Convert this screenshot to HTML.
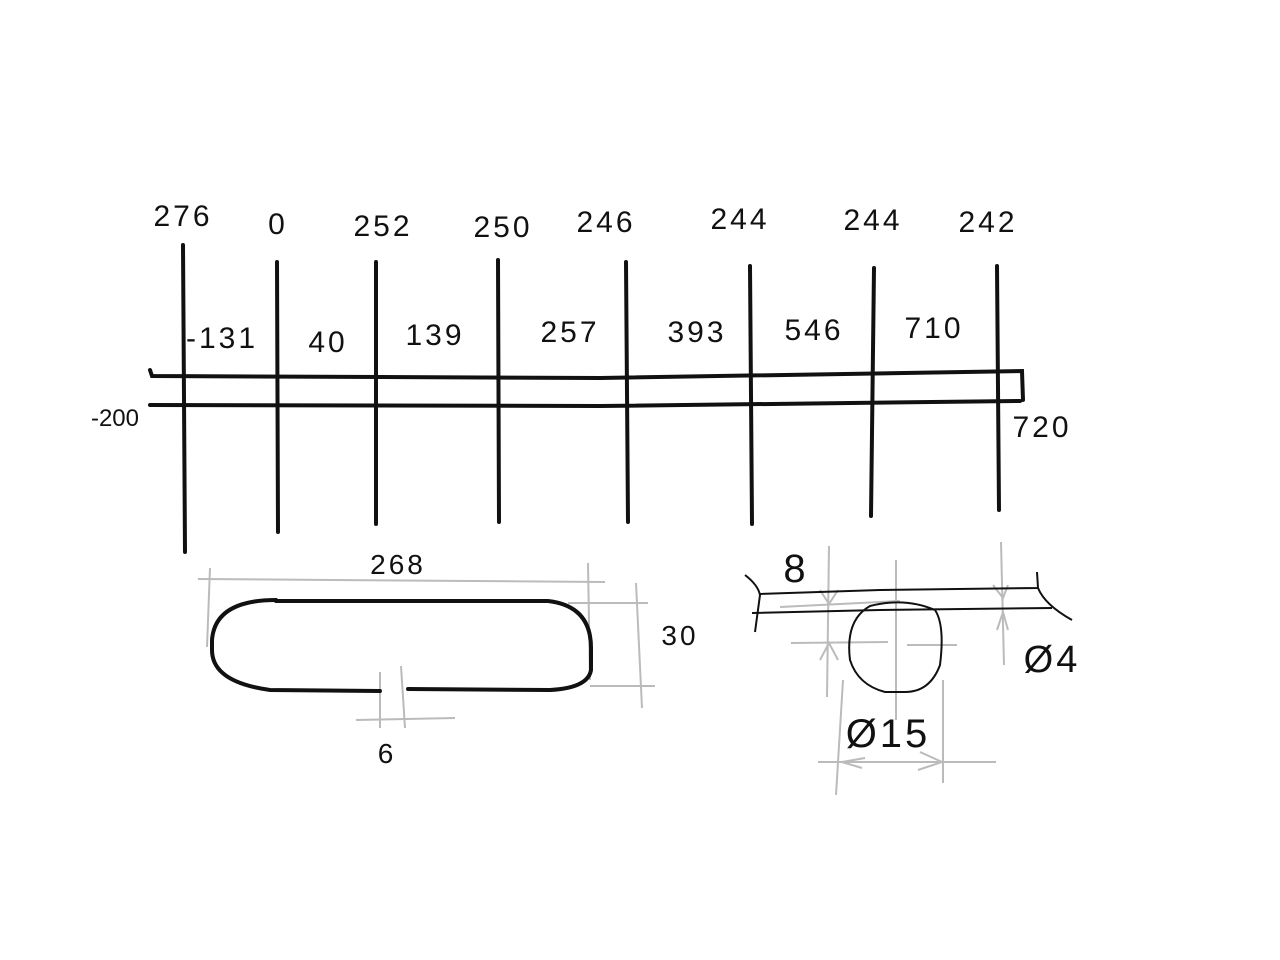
<!DOCTYPE html>
<html><head><style>html,body{margin:0;padding:0;background:#fff}svg{display:block}</style></head>
<body>
<svg width="1280" height="960" viewBox="0 0 1280 960" xmlns="http://www.w3.org/2000/svg" font-family="Liberation Sans, sans-serif">
<g stroke="#111" stroke-width="4" fill="none" stroke-linecap="round">
<path d="M183 245 L185 552"/>
<path d="M277 262 L278 532"/>
<path d="M376 262 L376 524"/>
<path d="M498 260 L499 522"/>
<path d="M626 262 L628 522"/>
<path d="M750 266 L752 524"/>
<path d="M874 268 L871 516"/>
<path d="M997 266 L999 510"/>
<path d="M150 370 L152 376 L600 378 L1022 371 L1023 400"/>
<path d="M150 405 L600 406 L1020 401"/>
</g>
<g font-size="30" fill="#111" text-anchor="middle" letter-spacing="3">
<text x="183" y="226">276</text>
<text x="278" y="234">0</text>
<text x="383" y="236">252</text>
<text x="503" y="237">250</text>
<text x="606" y="232">246</text>
<text x="740" y="229">244</text>
<text x="873" y="230">244</text>
<text x="988" y="232">242</text>
<text x="222" y="348">-131</text>
<text x="328" y="352">40</text>
<text x="435" y="345">139</text>
<text x="570" y="342">257</text>
<text x="697" y="342">393</text>
<text x="814" y="340">546</text>
<text x="934" y="338">710</text>
<text x="115" y="426" font-size="24" letter-spacing="0">-200</text>
<text x="1042" y="437">720</text>
<text x="398" y="574" font-size="28">268</text>
<text x="680" y="645" font-size="28">30</text>
<text x="387" y="763" font-size="28">6</text>
<text x="796" y="582" font-size="40">8</text>
<text x="1052" y="672" font-size="38">Ø4</text>
<text x="888" y="747" font-size="40">Ø15</text>
</g>
<g stroke="#bbb" stroke-width="2" fill="none">
<path d="M198 579 L605 582"/><path d="M210 568 L207 647"/><path d="M588 563 L590 680"/>
<path d="M568 603 L648 603"/><path d="M636 583 L642 708"/><path d="M590 686 L655 686"/>
<path d="M356 720 L455 718"/><path d="M380 672 L380 728"/><path d="M401 666 L405 728"/>
<path d="M829 546 L827 697"/><path d="M780 607 L900 601"/><path d="M791 643 L888 642"/><path d="M907 645 L957 645"/>
<path d="M896 560 L896 720"/><path d="M1001 542 L1004 665"/>
<path d="M843 680 L836 795"/><path d="M943 680 L943 783"/><path d="M818 762 L996 762"/>
<path d="M820 590 L829 604 L838 590"/><path d="M820 660 L829 643 L838 660"/>
<path d="M993 585 L1003 598 L1008 585"/><path d="M997 630 L1003 612 L1008 630"/>
<path d="M865 758 L842 762 L862 768"/><path d="M920 752 L942 762 L918 770"/>
</g>
<g stroke="#111" stroke-width="4" fill="none" stroke-linecap="round">
<path d="M276 601 L548 601 Q592 606 591 650 L591 670 Q588 688 550 690 L408 689"/>
<path d="M380 691 L270 690 Q212 682 212 650 L212 640 Q215 600 276 600"/>
</g>
<g stroke="#111" stroke-width="2" fill="none">
<path d="M745 575 Q758 585 760 595 L755 632"/>
<path d="M760 594 L880 590 L1038 588 L1037 572"/>
<path d="M752 613 L880 610 L1052 608"/><path d="M1038 588 Q1045 605 1072 620"/>
<path d="M870 606 Q905 597 935 610 Q945 625 940 665 Q930 692 905 692 L885 692 Q858 685 850 660 Q845 620 870 606 Z"/>
</g>
</svg>
</body></html>
